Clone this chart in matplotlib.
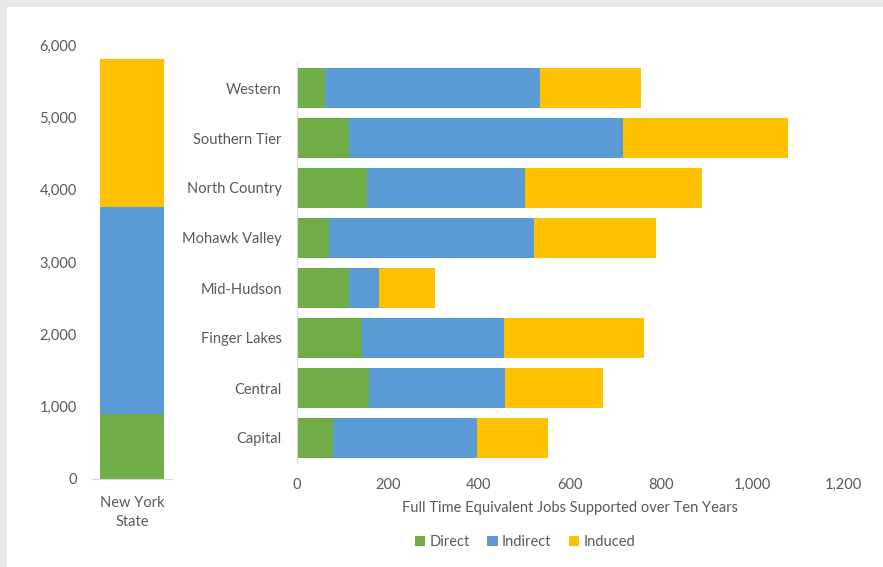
import matplotlib.pyplot as plt
from matplotlib.patches import Rectangle

plt.rcParams['font.family'] = ['Lato', 'DejaVu Sans']

# Regional FTE jobs over ten years
REGIONS = ['Capital', 'Central', 'Finger Lakes', 'Mid-Hudson',
           'Mohawk Valley', 'North Country', 'Southern Tier', 'Western']
DIRECT = [79, 158, 142, 114, 70, 153, 115, 62]
INDIRECT = [316, 299, 313, 66, 451, 348, 602, 472]
INDUCED = [156, 216, 308, 123, 267, 390, 363, 222]

# Statewide totals
STATE_LABEL = 'New York\nState'
STATE_DIRECT = 893
STATE_INDIRECT = 2867
STATE_INDUCED = 2045

SERIES = ['Direct', 'Indirect', 'Induced']
COLORS = ['#70AD47', '#5B9BD5', '#FFC000']
TEXT = '#595959'
AXIS = '#D9D9D9'
FS = 10.5

fig = plt.figure(figsize=(8.83, 5.67), dpi=100)
fig.patch.set_facecolor('#E8E8E8')
fig.patches.append(Rectangle((7 / 883, 0), 1, 1 - 7 / 567, transform=fig.transFigure,
                             facecolor='white', edgecolor='none', zorder=-10))

# --- statewide column ---
axl = fig.add_axes([92 / 883, 1 - 479 / 567, 80 / 883, 434 / 567])
axl.set_facecolor('none')
bottom = 0
for val, col in zip([STATE_DIRECT, STATE_INDIRECT, STATE_INDUCED], COLORS):
    axl.bar([0], [val], bottom=bottom, width=0.79, color=col, linewidth=0)
    bottom += val
axl.set_xlim(-0.5, 0.5)
axl.set_ylim(0, 6000)
axl.set_yticks(range(0, 6001, 1000))
axl.set_yticklabels([f'{v:,}' for v in range(0, 6001, 1000)])
axl.set_xticks([0])
axl.set_xticklabels([STATE_LABEL], linespacing=1.5)
axl.tick_params(length=0, labelsize=FS, labelcolor=TEXT)
axl.tick_params(axis='y', pad=11)
axl.tick_params(axis='x', pad=12)
for s in ['top', 'right', 'left']:
    axl.spines[s].set_visible(False)
axl.spines['bottom'].set_color(AXIS)

# --- regional bars ---
axr = fig.add_axes([297 / 883, 1 - 463 / 567, 546 / 883, 400 / 567])
axr.set_facecolor('none')
left = [0] * len(REGIONS)
for name, vals, col in zip(SERIES, [DIRECT, INDIRECT, INDUCED], COLORS):
    axr.barh(REGIONS, vals, left=left, height=0.8, color=col, linewidth=0, label=name)
    left = [a + b for a, b in zip(left, vals)]
axr.set_xlim(0, 1200)
axr.set_ylim(-0.5, len(REGIONS) - 0.5)
axr.set_xticks(range(0, 1201, 200))
axr.set_xticklabels([f'{v:,}' for v in range(0, 1201, 200)])
axr.tick_params(length=0, labelsize=FS, labelcolor=TEXT)
axr.tick_params(axis='y', pad=11)
axr.tick_params(axis='x', pad=11)
for s in ['top', 'right', 'bottom']:
    axr.spines[s].set_visible(False)
axr.spines['left'].set_color(AXIS)
axr.set_xlabel('Full Time Equivalent Jobs Supported over Ten Years',
               fontsize=FS, color=TEXT, labelpad=6)

leg = axr.legend(loc='center', bbox_to_anchor=(0.418, -0.197), ncol=3,
                 frameon=False, fontsize=FS, handlelength=0.7, handleheight=0.7,
                 handletextpad=0.3, columnspacing=1.2)
for t in leg.get_texts():
    t.set_color(TEXT)

fig.savefig('out.png', dpi=100, facecolor=fig.get_facecolor())
